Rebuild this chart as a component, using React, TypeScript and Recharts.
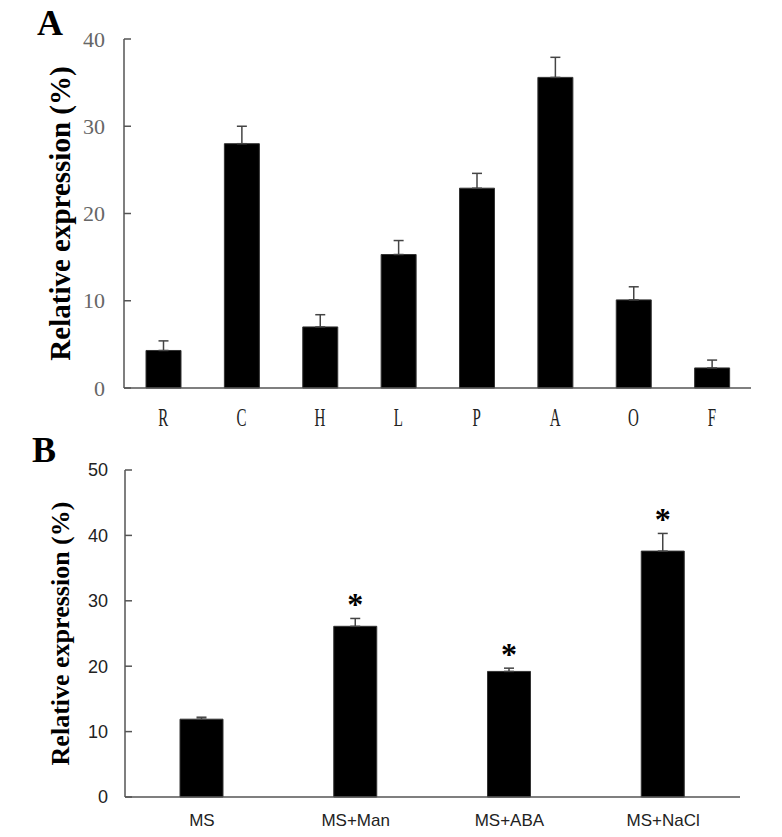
import React from 'react';
import { BarChart, Bar, XAxis, YAxis, ErrorBar, LabelList } from 'recharts';

// Panel A: tissues
const tissues = ['R', 'C', 'H', 'L', 'P', 'A', 'O', 'F'];
const tissueValues = [4.3, 28.0, 7.0, 15.3, 22.9, 35.6, 10.1, 2.3];
const tissueErrors = [1.1, 2.0, 1.4, 1.6, 1.7, 2.3, 1.5, 0.9];
const tissueTicks = [0, 10, 20, 30, 40];

// Panel B: treatments
const treatments = ['MS', 'MS+Man', 'MS+ABA', 'MS+NaCl'];
const treatmentValues = [11.9, 26.1, 19.2, 37.6];
const treatmentErrors = [0.3, 1.2, 0.5, 2.7];
const treatmentMarks = ['', '*', '*', '*'];
const treatmentTicks = [0, 10, 20, 30, 40, 50];

const dataA = tissues.map((name, i) => ({ name, value: tissueValues[i], err: [0, tissueErrors[i]] }));
const dataB = treatments.map((name, i) => ({
  name,
  value: treatmentValues[i],
  err: [0, treatmentErrors[i]],
  mark: treatmentMarks[i],
}));

const SERIF = '"Liberation Serif", "Times New Roman", serif';
const SANS = '"Liberation Sans", Arial, sans-serif';
const AXIS = '#555';

const makeYTick = (font: string, size: number, color: string, gap: number) => (props: any) => {
  const { x, y, payload } = props;
  return (
    <g>
      <line x1={x} y1={y} x2={x + 7} y2={y} stroke={AXIS} strokeWidth={1.5} />
      <text x={x - gap} y={y} dy="0.35em" textAnchor="end" fontFamily={font} fontSize={size} fill={color}>
        {payload.value}
      </text>
    </g>
  );
};

const TissueTick = (props: any) => {
  const { x, y, payload } = props;
  return (
    <text
      transform={`translate(${x}, ${y + 29}) scale(0.6, 1)`}
      dy="0.35em"
      textAnchor="middle"
      fontFamily={SERIF}
      fontSize={25}
      fill="#222"
    >
      {payload.value}
    </text>
  );
};

const TreatmentTick = (props: any) => {
  const { x, y, payload } = props;
  return (
    <text x={x} y={y + 23} dy="0.35em" textAnchor="middle" fontFamily={SANS} fontSize={17} fill="#222">
      {payload.value}
    </text>
  );
};

const yTitle = (size: number) => (props: any) => {
  const vb = props.viewBox;
  const cx = 60;
  const cy = vb.y + vb.height / 2;
  return (
    <text
      x={cx}
      y={cy}
      transform={`rotate(-90, ${cx}, ${cy})`}
      textAnchor="middle"
      dominantBaseline="central"
      fontFamily={SERIF}
      fontWeight="bold"
      fontSize={size}
      fill="#000"
    >
      Relative expression (%)
    </text>
  );
};

const Star = (props: any) => {
  const { x, y, width, height, value, index } = props;
  if (!value) return null;
  const perUnit = height / treatmentValues[index];
  const top = y - treatmentErrors[index] * perUnit;
  return (
    <text x={x + width / 2} y={top - 3} textAnchor="middle" fontFamily={SERIF} fontWeight="bold" fontSize={32} fill="#000">
      {value}
    </text>
  );
};

const panelLetter: React.CSSProperties = {
  position: 'absolute',
  fontFamily: SERIF,
  fontWeight: 'bold',
  fontSize: 36,
  lineHeight: '36px',
  color: '#000',
};

export default function App() {
  return (
    <div style={{ position: 'relative', width: 782, height: 837, background: '#fff', margin: -8 }}>
      <div style={{ position: 'absolute', left: 0, top: 420 }}>
        <BarChart width={782} height={417} data={dataB} margin={{ top: 50, right: 42, bottom: 0, left: 0 }}>
          <XAxis
            dataKey="name"
            height={40}
            tickLine={false}
            tickSize={0}
            tickMargin={0}
            tick={TreatmentTick}
            axisLine={{ stroke: AXIS, strokeWidth: 1.5 }}
          />
          <YAxis
            width={125}
            domain={[0, 50]}
            ticks={treatmentTicks}
            tickLine={false}
            tickSize={0}
            tickMargin={0}
            tick={makeYTick(SANS, 18, '#222', 17)}
            axisLine={{ stroke: AXIS, strokeWidth: 1.5 }}
            label={{ content: yTitle(26) }}
          />
          <Bar dataKey="value" fill="#000" stroke="#333" barSize={43} isAnimationActive={false}>
            <ErrorBar dataKey="err" width={5} stroke="#444" strokeWidth={1.5} isAnimationActive={false} />
            <LabelList dataKey="mark" content={Star} />
          </Bar>
        </BarChart>
      </div>

      <div style={{ position: 'absolute', left: 0, top: 0 }}>
        <BarChart width={782} height={432} data={dataA} margin={{ top: 39, right: 31, bottom: 12, left: 0 }}>
          <XAxis
            dataKey="name"
            height={32}
            tickLine={false}
            tickSize={0}
            tickMargin={0}
            tick={TissueTick}
            axisLine={{ stroke: AXIS, strokeWidth: 1.5 }}
          />
          <YAxis
            width={124}
            domain={[0, 40]}
            ticks={tissueTicks}
            tickLine={false}
            tickSize={0}
            tickMargin={0}
            tick={makeYTick(SERIF, 22, '#666', 19)}
            axisLine={{ stroke: AXIS, strokeWidth: 1.5 }}
            label={{ content: yTitle(29) }}
          />
          <Bar dataKey="value" fill="#000" stroke="#333" barSize={35} isAnimationActive={false}>
            <ErrorBar dataKey="err" width={5} stroke="#444" strokeWidth={1.5} isAnimationActive={false} />
          </Bar>
        </BarChart>
      </div>

      <div style={{ ...panelLetter, left: 37, top: 5 }}>A</div>
      <div style={{ ...panelLetter, left: 32, top: 432 }}>B</div>
    </div>
  );
}
